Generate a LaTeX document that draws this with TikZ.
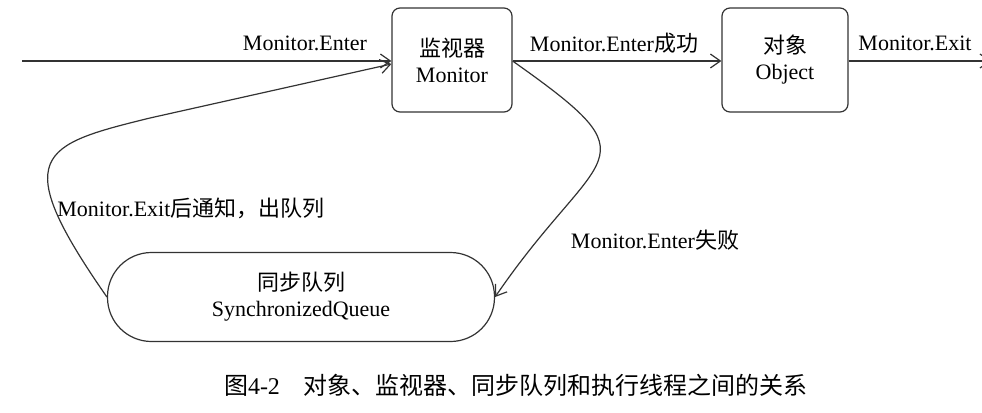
\documentclass[tikz,border=0pt]{standalone}
\usepackage{fontspec}
\setmainfont{Liberation Serif}
\newfontfamily\cjk{Noto Sans CJK SC}
\usetikzlibrary{arrows.meta,positioning,calc}

\begin{document}
\begin{tikzpicture}[
    x=0.5pt, y=-0.5pt,
    font=\fontsize{11}{13}\selectfont,
    main/.style={rectangle, draw=black!80, line width=0.6pt, minimum width=60pt, minimum height=52pt, align=center, rounded corners=4pt},
    queue/.style={rectangle, draw=black!80, line width=0.6pt, minimum width=193.5pt, minimum height=44.5pt, align=center, rounded corners=22pt},
    arrow/.style={-{Straight Barb[length=5pt,width=7pt]}, line width=0.6pt, black!80},
    note/.style={inner sep=1pt}
]
\useasboundingbox (0,0) rectangle (982,413);

% Main flow
\node[main] (mon) at (452,60) {{\cjk 监视器}\\Monitor};
\node[main, minimum width=63pt] (obj) at (785,60) {{\cjk 对象}\\Object};
\node[queue] (sq) at (301,297) {{\cjk 同步队列}\\SynchronizedQueue};

\coordinate (in) at (22,61);
\coordinate (out) at (991,61);

% Arrows
\draw[arrow] (in) -- (mon.west |- in);
\draw[arrow] (mon.east |- in) -- (obj.west |- in);
\draw[arrow] (obj.east |- in) -- (out);
\draw[arrow] (mon.east |- in) .. controls (660,165) and (599,145) .. (sq.east);
\draw[arrow] (sq.west) .. controls (8,155) and (40,145) .. (150,118) -- ($(mon.west)+(0,4)$);

% Labels
\node[note] (lenter) at (305,43) {Monitor.Enter};
\node[note] (lok) at (614,43) {Monitor.Enter{\cjk 成功}};
\node[note] (lexit) at (915,43) {Monitor.Exit};
\node[note] (lfail) at (655,240) {Monitor.Enter{\cjk 失败}};
\node[note, anchor=west] (lnotify) at (55,208) {Monitor.Exit{\cjk 后通知，出队列}};

% Caption
\node (cap) at (516,385) {\fontsize{12}{14}\selectfont{\cjk 图}4-2\quad{\cjk 对象、监视器、同步队列和执行线程之间的关系}};

\end{tikzpicture}
\end{document}
